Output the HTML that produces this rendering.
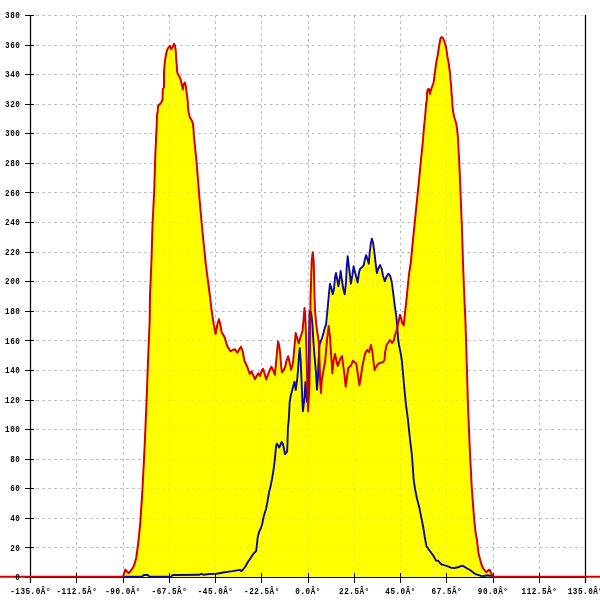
<!DOCTYPE html>
<html><head><meta charset="utf-8"><style>
html,body{margin:0;padding:0;background:#fff;width:600px;height:600px;overflow:hidden}
svg{display:block}
text{font-family:"Liberation Mono",monospace}
</style></head><body>
<svg width="600" height="600" viewBox="0 0 600 600" shape-rendering="auto">
<g stroke="#bdbdbd" stroke-width="1" stroke-dasharray="2.4 3.59"><line x1="36.4" y1="547.5" x2="583" y2="547.5"/><line x1="36.4" y1="518.5" x2="583" y2="518.5"/><line x1="36.4" y1="488.5" x2="583" y2="488.5"/><line x1="36.4" y1="459.5" x2="583" y2="459.5"/><line x1="36.4" y1="429.5" x2="583" y2="429.5"/><line x1="36.4" y1="400.5" x2="583" y2="400.5"/><line x1="36.4" y1="370.5" x2="583" y2="370.5"/><line x1="36.4" y1="340.5" x2="583" y2="340.5"/><line x1="36.4" y1="311.5" x2="583" y2="311.5"/><line x1="36.4" y1="281.5" x2="583" y2="281.5"/><line x1="36.4" y1="252.5" x2="583" y2="252.5"/><line x1="36.4" y1="222.5" x2="583" y2="222.5"/><line x1="36.4" y1="192.5" x2="583" y2="192.5"/><line x1="36.4" y1="163.5" x2="583" y2="163.5"/><line x1="36.4" y1="133.5" x2="583" y2="133.5"/><line x1="36.4" y1="104.5" x2="583" y2="104.5"/><line x1="36.4" y1="74.5" x2="583" y2="74.5"/><line x1="36.4" y1="45.5" x2="583" y2="45.5"/><line x1="36.4" y1="15.5" x2="583" y2="15.5"/><line x1="76.5" y1="15.3" x2="76.5" y2="577"/><line x1="123.5" y1="15.3" x2="123.5" y2="577"/><line x1="169.5" y1="15.3" x2="169.5" y2="577"/><line x1="215.5" y1="15.3" x2="215.5" y2="577"/><line x1="261.5" y1="15.3" x2="261.5" y2="577"/><line x1="308.5" y1="15.3" x2="308.5" y2="577"/><line x1="354.5" y1="15.3" x2="354.5" y2="577"/><line x1="400.5" y1="15.3" x2="400.5" y2="577"/><line x1="446.5" y1="15.3" x2="446.5" y2="577"/><line x1="493.5" y1="15.3" x2="493.5" y2="577"/><line x1="539.5" y1="15.3" x2="539.5" y2="577"/></g>
<polygon fill="#ffff00" points="123.00,577.00 123.00,576.80 125.30,569.60 128.70,573.30 132.90,567.90 134.50,564.00 136.20,558.00 137.30,550.00 138.50,541.00 140.50,520.00 142.60,486.70 144.70,445.00 146.50,403.00 148.00,361.70 149.70,320.00 150.00,295.00 151.50,260.00 152.50,225.00 154.25,190.00 155.30,155.00 156.70,125.00 157.10,114.00 157.70,112.00 158.00,106.00 160.00,104.00 161.50,102.00 162.50,100.00 162.80,89.00 164.00,87.50 164.00,73.00 164.80,62.20 165.80,55.50 166.70,51.30 167.90,48.40 169.20,46.75 170.00,45.90 171.25,49.25 172.90,46.30 174.00,43.80 175.00,45.50 175.70,50.50 176.25,59.70 176.80,65.50 177.10,71.30 177.70,73.80 178.75,75.50 180.50,79.00 181.50,83.00 182.80,89.50 183.50,85.00 184.80,82.50 185.80,86.00 186.50,92.00 187.20,97.00 187.80,102.00 188.00,108.00 188.80,113.00 189.80,117.00 191.50,120.00 192.80,123.00 193.50,129.00 193.80,135.00 196.70,163.30 199.30,196.70 202.30,230.00 205.70,263.30 210.00,296.70 211.30,308.00 212.70,318.00 214.00,326.00 215.60,334.00 217.30,324.70 218.90,319.30 220.40,324.70 221.70,332.70 223.30,334.70 224.90,338.00 226.70,344.70 228.70,348.70 230.70,351.30 232.70,350.00 235.00,349.30 237.30,352.70 239.30,349.30 240.90,346.70 242.70,351.30 244.40,360.70 246.30,364.70 248.00,368.70 249.70,374.00 251.60,371.30 253.30,375.30 254.90,379.30 256.70,376.00 258.30,373.30 260.00,376.00 261.30,372.00 263.00,368.70 264.70,374.00 266.20,379.50 267.90,374.80 269.70,370.20 271.40,366.70 273.20,370.20 274.90,374.80 276.10,362.00 277.30,349.20 278.10,341.60 279.20,345.70 280.20,353.80 281.10,365.50 281.90,372.50 283.70,370.20 285.40,366.00 286.20,361.50 288.20,356.20 289.70,363.00 291.20,369.70 293.00,363.00 294.20,349.50 295.70,333.00 297.20,338.20 298.70,343.50 300.50,337.00 302.50,331.00 303.50,320.00 304.50,308.00 305.20,315.00 305.80,330.00 306.20,345.00 307.20,380.00 308.00,411.30 309.40,387.50 309.90,355.00 310.50,300.00 311.70,261.00 312.70,252.30 313.70,261.00 314.30,289.00 315.00,310.00 316.00,322.00 317.00,330.00 318.00,337.00 319.00,343.00 319.50,360.00 320.20,382.00 321.00,392.90 321.80,380.00 323.50,370.20 325.10,361.50 327.00,340.00 328.70,326.00 330.00,337.30 331.00,353.30 332.00,366.70 332.30,373.30 333.70,360.00 335.00,354.00 336.30,360.00 337.70,366.00 339.00,362.70 340.30,358.70 342.00,356.00 343.00,364.00 344.30,373.30 345.70,386.70 347.00,377.30 348.30,368.00 349.70,366.70 351.00,365.30 353.00,360.70 355.00,362.70 356.30,363.30 357.70,373.30 359.40,385.30 361.00,376.00 362.30,366.70 363.70,360.00 365.00,354.00 367.00,350.00 369.00,352.00 371.00,345.00 372.50,353.00 373.50,362.00 374.50,370.00 376.00,367.00 378.00,364.00 380.00,363.00 383.00,362.00 384.50,360.00 385.00,353.00 386.50,345.00 388.00,343.00 390.00,340.00 392.00,343.00 394.00,340.00 395.00,335.00 396.50,331.00 397.50,326.00 398.50,322.00 400.00,314.70 401.30,318.70 402.00,322.70 403.70,325.30 405.30,310.70 406.70,297.30 408.00,284.00 409.30,272.00 410.70,263.30 413.30,236.70 416.00,210.00 418.70,183.30 421.30,156.70 423.00,140.00 423.50,133.00 424.20,125.00 425.00,118.00 425.50,112.00 426.00,105.00 426.80,100.00 427.00,93.00 427.80,89.50 429.00,89.00 430.00,94.00 430.50,91.50 431.50,88.50 432.30,86.00 433.50,83.00 434.50,76.00 435.50,68.00 436.50,61.00 437.80,55.00 438.80,48.00 439.80,42.00 440.50,38.50 441.50,37.00 443.00,38.00 444.20,41.00 445.50,45.00 446.50,50.00 447.50,57.00 448.50,62.00 449.30,68.00 450.00,73.00 450.50,80.00 451.20,86.00 451.50,93.00 452.00,98.00 452.50,106.00 453.30,113.00 454.50,118.00 455.50,121.00 456.50,125.00 457.20,130.00 457.80,136.00 459.30,163.30 460.70,196.70 462.00,230.00 463.00,263.30 464.30,296.70 465.40,320.00 466.70,361.70 467.90,403.30 469.60,445.00 471.70,486.70 474.20,520.00 475.50,532.00 477.00,540.00 477.70,547.00 478.70,554.00 480.10,559.60 481.50,564.50 483.30,568.70 486.10,572.20 487.80,570.80 489.60,569.70 491.00,572.90 492.40,575.70 493.40,576.80 493.40,577.00"/>
<polygon fill="#ffff00" points="123.00,577.00 123.00,576.80 142.00,576.80 143.50,575.00 148.00,575.00 149.50,576.80 171.00,576.80 172.50,575.00 178.00,575.00 199.00,574.80 201.30,573.80 203.70,574.80 209.50,574.00 216.50,573.70 224.70,572.30 232.80,571.10 239.80,569.90 241.60,571.10 245.10,567.00 248.00,561.75 250.00,559.00 253.20,554.00 256.20,551.00 256.70,546.50 257.70,537.50 259.20,531.50 260.70,528.50 262.20,524.00 263.70,516.50 266.00,509.00 267.50,501.50 269.00,492.50 270.50,486.50 272.00,479.00 273.50,470.00 274.60,461.70 275.40,453.30 276.20,445.70 277.00,443.70 279.20,447.50 281.70,442.00 282.90,444.00 285.00,454.00 287.10,451.70 287.50,443.30 287.90,428.30 288.75,420.00 289.70,402.00 290.70,396.00 293.00,387.00 294.50,381.70 295.70,390.00 297.20,379.50 298.20,367.50 299.00,355.50 299.70,348.00 300.70,360.00 301.80,387.50 302.90,411.30 304.50,398.30 305.40,382.00 306.10,390.75 306.90,401.60 308.30,387.50 309.00,342.00 309.50,312.00 310.50,311.00 311.50,315.00 312.50,325.00 313.00,335.00 314.00,350.00 315.90,371.30 317.00,389.70 318.00,376.70 318.60,360.40 319.50,345.00 320.50,342.00 322.00,338.00 323.50,333.00 325.00,327.00 326.00,325.00 327.30,311.70 328.30,301.00 328.90,294.30 330.00,283.70 331.30,287.70 332.70,294.30 334.00,289.00 334.90,278.30 336.00,273.00 337.00,278.30 338.40,286.30 339.70,278.30 340.70,271.00 342.00,281.00 343.30,289.00 344.70,294.30 346.00,282.30 346.70,267.70 347.70,256.30 348.70,265.00 350.00,275.70 350.90,283.70 352.30,275.70 353.60,266.30 354.90,271.70 356.20,276.70 357.60,282.50 359.10,272.00 360.30,268.50 362.00,267.30 363.75,265.00 364.90,259.20 366.10,255.10 367.25,258.60 368.80,263.80 369.60,253.30 370.75,244.00 371.90,238.75 373.10,242.80 373.90,248.70 374.80,255.70 375.80,265.00 376.90,273.20 378.30,268.50 380.10,265.00 381.60,268.50 383.00,275.50 384.75,281.30 386.50,276.70 388.25,273.75 390.00,275.50 391.40,280.20 392.30,286.00 393.50,295.30 394.90,306.70 396.30,316.00 397.30,326.70 398.00,338.00 399.00,345.00 400.00,350.00 401.00,355.00 402.00,362.00 402.70,370.00 404.20,386.70 405.80,403.30 408.00,420.00 409.70,436.70 411.70,453.30 412.30,460.00 413.00,470.00 413.60,479.20 415.00,488.75 416.90,498.30 419.40,507.90 421.30,517.50 423.20,527.00 424.70,536.70 426.50,546.30 429.90,551.00 433.40,555.80 436.00,560.60 438.30,560.70 440.00,563.00 442.00,564.70 446.00,565.70 451.00,567.70 454.70,568.00 458.70,567.00 462.30,565.70 466.00,567.70 470.00,570.00 474.30,573.30 477.00,574.60 480.50,575.70 484.00,576.00 487.50,575.30 489.60,575.70 491.70,575.70 493.00,576.40 493.00,577.00"/>
<g stroke="#909090" stroke-opacity="0.18" stroke-width="1" stroke-dasharray="2.4 3.59"><line x1="36.4" y1="547.5" x2="583" y2="547.5"/><line x1="36.4" y1="518.5" x2="583" y2="518.5"/><line x1="36.4" y1="488.5" x2="583" y2="488.5"/><line x1="36.4" y1="459.5" x2="583" y2="459.5"/><line x1="36.4" y1="429.5" x2="583" y2="429.5"/><line x1="36.4" y1="400.5" x2="583" y2="400.5"/><line x1="36.4" y1="370.5" x2="583" y2="370.5"/><line x1="36.4" y1="340.5" x2="583" y2="340.5"/><line x1="36.4" y1="311.5" x2="583" y2="311.5"/><line x1="36.4" y1="281.5" x2="583" y2="281.5"/><line x1="36.4" y1="252.5" x2="583" y2="252.5"/><line x1="36.4" y1="222.5" x2="583" y2="222.5"/><line x1="36.4" y1="192.5" x2="583" y2="192.5"/><line x1="36.4" y1="163.5" x2="583" y2="163.5"/><line x1="36.4" y1="133.5" x2="583" y2="133.5"/><line x1="36.4" y1="104.5" x2="583" y2="104.5"/><line x1="36.4" y1="74.5" x2="583" y2="74.5"/><line x1="36.4" y1="45.5" x2="583" y2="45.5"/><line x1="36.4" y1="15.5" x2="583" y2="15.5"/><line x1="76.5" y1="15.3" x2="76.5" y2="577"/><line x1="123.5" y1="15.3" x2="123.5" y2="577"/><line x1="169.5" y1="15.3" x2="169.5" y2="577"/><line x1="215.5" y1="15.3" x2="215.5" y2="577"/><line x1="261.5" y1="15.3" x2="261.5" y2="577"/><line x1="308.5" y1="15.3" x2="308.5" y2="577"/><line x1="354.5" y1="15.3" x2="354.5" y2="577"/><line x1="400.5" y1="15.3" x2="400.5" y2="577"/><line x1="446.5" y1="15.3" x2="446.5" y2="577"/><line x1="493.5" y1="15.3" x2="493.5" y2="577"/><line x1="539.5" y1="15.3" x2="539.5" y2="577"/></g>
<g stroke="#000" stroke-width="1.5"><line x1="30.5" y1="15" x2="30.5" y2="583" stroke-width="1.25"/><line x1="585.5" y1="15" x2="585.5" y2="583" stroke-width="1.25"/><line x1="30" y1="577.5" x2="586" y2="577.5" stroke-width="1"/><line x1="25" y1="577.5" x2="34" y2="577.5" stroke-width="1"/><line x1="25" y1="547.5" x2="34" y2="547.5" stroke-width="1"/><line x1="25" y1="518.5" x2="34" y2="518.5" stroke-width="1"/><line x1="25" y1="488.5" x2="34" y2="488.5" stroke-width="1"/><line x1="25" y1="459.5" x2="34" y2="459.5" stroke-width="1"/><line x1="25" y1="429.5" x2="34" y2="429.5" stroke-width="1"/><line x1="25" y1="400.5" x2="34" y2="400.5" stroke-width="1"/><line x1="25" y1="370.5" x2="34" y2="370.5" stroke-width="1"/><line x1="25" y1="340.5" x2="34" y2="340.5" stroke-width="1"/><line x1="25" y1="311.5" x2="34" y2="311.5" stroke-width="1"/><line x1="25" y1="281.5" x2="34" y2="281.5" stroke-width="1"/><line x1="25" y1="252.5" x2="34" y2="252.5" stroke-width="1"/><line x1="25" y1="222.5" x2="34" y2="222.5" stroke-width="1"/><line x1="25" y1="192.5" x2="34" y2="192.5" stroke-width="1"/><line x1="25" y1="163.5" x2="34" y2="163.5" stroke-width="1"/><line x1="25" y1="133.5" x2="34" y2="133.5" stroke-width="1"/><line x1="25" y1="104.5" x2="34" y2="104.5" stroke-width="1"/><line x1="25" y1="74.5" x2="34" y2="74.5" stroke-width="1"/><line x1="25" y1="45.5" x2="34" y2="45.5" stroke-width="1"/><line x1="25" y1="15.5" x2="34" y2="15.5" stroke-width="1"/><line x1="30.5" y1="573" x2="30.5" y2="583" stroke-width="1"/><line x1="76.5" y1="573" x2="76.5" y2="583" stroke-width="1"/><line x1="123.5" y1="573" x2="123.5" y2="583" stroke-width="1"/><line x1="169.5" y1="573" x2="169.5" y2="583" stroke-width="1"/><line x1="215.5" y1="573" x2="215.5" y2="583" stroke-width="1"/><line x1="261.5" y1="573" x2="261.5" y2="583" stroke-width="1"/><line x1="308.5" y1="573" x2="308.5" y2="583" stroke-width="1"/><line x1="354.5" y1="573" x2="354.5" y2="583" stroke-width="1"/><line x1="400.5" y1="573" x2="400.5" y2="583" stroke-width="1"/><line x1="446.5" y1="573" x2="446.5" y2="583" stroke-width="1"/><line x1="493.5" y1="573" x2="493.5" y2="583" stroke-width="1"/><line x1="539.5" y1="573" x2="539.5" y2="583" stroke-width="1"/><line x1="585.5" y1="573" x2="585.5" y2="583" stroke-width="1"/></g>
<polyline fill="none" stroke="#0a0aa0" stroke-width="1.9" stroke-linejoin="round" points="123.00,576.80 142.00,576.80 143.50,575.00 148.00,575.00 149.50,576.80 171.00,576.80 172.50,575.00 178.00,575.00 199.00,574.80 201.30,573.80 203.70,574.80 209.50,574.00 216.50,573.70 224.70,572.30 232.80,571.10 239.80,569.90 241.60,571.10 245.10,567.00 248.00,561.75 250.00,559.00 253.20,554.00 256.20,551.00 256.70,546.50 257.70,537.50 259.20,531.50 260.70,528.50 262.20,524.00 263.70,516.50 266.00,509.00 267.50,501.50 269.00,492.50 270.50,486.50 272.00,479.00 273.50,470.00 274.60,461.70 275.40,453.30 276.20,445.70 277.00,443.70 279.20,447.50 281.70,442.00 282.90,444.00 285.00,454.00 287.10,451.70 287.50,443.30 287.90,428.30 288.75,420.00 289.70,402.00 290.70,396.00 293.00,387.00 294.50,381.70 295.70,390.00 297.20,379.50 298.20,367.50 299.00,355.50 299.70,348.00 300.70,360.00 301.80,387.50 302.90,411.30 304.50,398.30 305.40,382.00 306.10,390.75 306.90,401.60 308.30,387.50 309.00,342.00 309.50,312.00 310.50,311.00 311.50,315.00 312.50,325.00 313.00,335.00 314.00,350.00 315.90,371.30 317.00,389.70 318.00,376.70 318.60,360.40 319.50,345.00 320.50,342.00 322.00,338.00 323.50,333.00 325.00,327.00 326.00,325.00 327.30,311.70 328.30,301.00 328.90,294.30 330.00,283.70 331.30,287.70 332.70,294.30 334.00,289.00 334.90,278.30 336.00,273.00 337.00,278.30 338.40,286.30 339.70,278.30 340.70,271.00 342.00,281.00 343.30,289.00 344.70,294.30 346.00,282.30 346.70,267.70 347.70,256.30 348.70,265.00 350.00,275.70 350.90,283.70 352.30,275.70 353.60,266.30 354.90,271.70 356.20,276.70 357.60,282.50 359.10,272.00 360.30,268.50 362.00,267.30 363.75,265.00 364.90,259.20 366.10,255.10 367.25,258.60 368.80,263.80 369.60,253.30 370.75,244.00 371.90,238.75 373.10,242.80 373.90,248.70 374.80,255.70 375.80,265.00 376.90,273.20 378.30,268.50 380.10,265.00 381.60,268.50 383.00,275.50 384.75,281.30 386.50,276.70 388.25,273.75 390.00,275.50 391.40,280.20 392.30,286.00 393.50,295.30 394.90,306.70 396.30,316.00 397.30,326.70 398.00,338.00 399.00,345.00 400.00,350.00 401.00,355.00 402.00,362.00 402.70,370.00 404.20,386.70 405.80,403.30 408.00,420.00 409.70,436.70 411.70,453.30 412.30,460.00 413.00,470.00 413.60,479.20 415.00,488.75 416.90,498.30 419.40,507.90 421.30,517.50 423.20,527.00 424.70,536.70 426.50,546.30 429.90,551.00 433.40,555.80 436.00,560.60 438.30,560.70 440.00,563.00 442.00,564.70 446.00,565.70 451.00,567.70 454.70,568.00 458.70,567.00 462.30,565.70 466.00,567.70 470.00,570.00 474.30,573.30 477.00,574.60 480.50,575.70 484.00,576.00 487.50,575.30 489.60,575.70 491.70,575.70 493.00,576.40"/>
<polyline fill="none" stroke="#d20000" stroke-width="2" stroke-linejoin="round" points="0.00,576.80 123.00,576.80 125.30,569.60 128.70,573.30 132.90,567.90 134.50,564.00 136.20,558.00 137.30,550.00 138.50,541.00 140.50,520.00 142.60,486.70 144.70,445.00 146.50,403.00 148.00,361.70 149.70,320.00 150.00,295.00 151.50,260.00 152.50,225.00 154.25,190.00 155.30,155.00 156.70,125.00 157.10,114.00 157.70,112.00 158.00,106.00 160.00,104.00 161.50,102.00 162.50,100.00 162.80,89.00 164.00,87.50 164.00,73.00 164.80,62.20 165.80,55.50 166.70,51.30 167.90,48.40 169.20,46.75 170.00,45.90 171.25,49.25 172.90,46.30 174.00,43.80 175.00,45.50 175.70,50.50 176.25,59.70 176.80,65.50 177.10,71.30 177.70,73.80 178.75,75.50 180.50,79.00 181.50,83.00 182.80,89.50 183.50,85.00 184.80,82.50 185.80,86.00 186.50,92.00 187.20,97.00 187.80,102.00 188.00,108.00 188.80,113.00 189.80,117.00 191.50,120.00 192.80,123.00 193.50,129.00 193.80,135.00 196.70,163.30 199.30,196.70 202.30,230.00 205.70,263.30 210.00,296.70 211.30,308.00 212.70,318.00 214.00,326.00 215.60,334.00 217.30,324.70 218.90,319.30 220.40,324.70 221.70,332.70 223.30,334.70 224.90,338.00 226.70,344.70 228.70,348.70 230.70,351.30 232.70,350.00 235.00,349.30 237.30,352.70 239.30,349.30 240.90,346.70 242.70,351.30 244.40,360.70 246.30,364.70 248.00,368.70 249.70,374.00 251.60,371.30 253.30,375.30 254.90,379.30 256.70,376.00 258.30,373.30 260.00,376.00 261.30,372.00 263.00,368.70 264.70,374.00 266.20,379.50 267.90,374.80 269.70,370.20 271.40,366.70 273.20,370.20 274.90,374.80 276.10,362.00 277.30,349.20 278.10,341.60 279.20,345.70 280.20,353.80 281.10,365.50 281.90,372.50 283.70,370.20 285.40,366.00 286.20,361.50 288.20,356.20 289.70,363.00 291.20,369.70 293.00,363.00 294.20,349.50 295.70,333.00 297.20,338.20 298.70,343.50 300.50,337.00 302.50,331.00 303.50,320.00 304.50,308.00 305.20,315.00 305.80,330.00 306.20,345.00 307.20,380.00 308.00,411.30 309.40,387.50 309.90,355.00 310.50,300.00 311.70,261.00 312.70,252.30 313.70,261.00 314.30,289.00 315.00,310.00 316.00,322.00 317.00,330.00 318.00,337.00 319.00,343.00 319.50,360.00 320.20,382.00 321.00,392.90 321.80,380.00 323.50,370.20 325.10,361.50 327.00,340.00 328.70,326.00 330.00,337.30 331.00,353.30 332.00,366.70 332.30,373.30 333.70,360.00 335.00,354.00 336.30,360.00 337.70,366.00 339.00,362.70 340.30,358.70 342.00,356.00 343.00,364.00 344.30,373.30 345.70,386.70 347.00,377.30 348.30,368.00 349.70,366.70 351.00,365.30 353.00,360.70 355.00,362.70 356.30,363.30 357.70,373.30 359.40,385.30 361.00,376.00 362.30,366.70 363.70,360.00 365.00,354.00 367.00,350.00 369.00,352.00 371.00,345.00 372.50,353.00 373.50,362.00 374.50,370.00 376.00,367.00 378.00,364.00 380.00,363.00 383.00,362.00 384.50,360.00 385.00,353.00 386.50,345.00 388.00,343.00 390.00,340.00 392.00,343.00 394.00,340.00 395.00,335.00 396.50,331.00 397.50,326.00 398.50,322.00 400.00,314.70 401.30,318.70 402.00,322.70 403.70,325.30 405.30,310.70 406.70,297.30 408.00,284.00 409.30,272.00 410.70,263.30 413.30,236.70 416.00,210.00 418.70,183.30 421.30,156.70 423.00,140.00 423.50,133.00 424.20,125.00 425.00,118.00 425.50,112.00 426.00,105.00 426.80,100.00 427.00,93.00 427.80,89.50 429.00,89.00 430.00,94.00 430.50,91.50 431.50,88.50 432.30,86.00 433.50,83.00 434.50,76.00 435.50,68.00 436.50,61.00 437.80,55.00 438.80,48.00 439.80,42.00 440.50,38.50 441.50,37.00 443.00,38.00 444.20,41.00 445.50,45.00 446.50,50.00 447.50,57.00 448.50,62.00 449.30,68.00 450.00,73.00 450.50,80.00 451.20,86.00 451.50,93.00 452.00,98.00 452.50,106.00 453.30,113.00 454.50,118.00 455.50,121.00 456.50,125.00 457.20,130.00 457.80,136.00 459.30,163.30 460.70,196.70 462.00,230.00 463.00,263.30 464.30,296.70 465.40,320.00 466.70,361.70 467.90,403.30 469.60,445.00 471.70,486.70 474.20,520.00 475.50,532.00 477.00,540.00 477.70,547.00 478.70,554.00 480.10,559.60 481.50,564.50 483.30,568.70 486.10,572.20 487.80,570.80 489.60,569.70 491.00,572.90 492.40,575.70 493.40,576.80 600.00,576.80"/>
<g font-family="Liberation Mono" font-weight="bold" font-size="9.0px" letter-spacing="0.6" fill="#000" style="will-change:transform"><text transform="translate(20.4,580.1) scale(0.850,1)" text-anchor="end">0</text><text transform="translate(20.4,550.5) scale(0.850,1)" text-anchor="end">20</text><text transform="translate(20.4,520.9) scale(0.850,1)" text-anchor="end">40</text><text transform="translate(20.4,491.4) scale(0.850,1)" text-anchor="end">60</text><text transform="translate(20.4,461.8) scale(0.850,1)" text-anchor="end">80</text><text transform="translate(20.4,432.2) scale(0.850,1)" text-anchor="end">100</text><text transform="translate(20.4,402.6) scale(0.850,1)" text-anchor="end">120</text><text transform="translate(20.4,373.0) scale(0.850,1)" text-anchor="end">140</text><text transform="translate(20.4,343.5) scale(0.850,1)" text-anchor="end">160</text><text transform="translate(20.4,313.9) scale(0.850,1)" text-anchor="end">180</text><text transform="translate(20.4,284.3) scale(0.850,1)" text-anchor="end">200</text><text transform="translate(20.4,254.7) scale(0.850,1)" text-anchor="end">220</text><text transform="translate(20.4,225.1) scale(0.850,1)" text-anchor="end">240</text><text transform="translate(20.4,195.6) scale(0.850,1)" text-anchor="end">260</text><text transform="translate(20.4,166.0) scale(0.850,1)" text-anchor="end">280</text><text transform="translate(20.4,136.4) scale(0.850,1)" text-anchor="end">300</text><text transform="translate(20.4,106.8) scale(0.850,1)" text-anchor="end">320</text><text transform="translate(20.4,77.2) scale(0.850,1)" text-anchor="end">340</text><text transform="translate(20.4,47.7) scale(0.850,1)" text-anchor="end">360</text><text transform="translate(20.4,18.1) scale(0.850,1)" text-anchor="end">380</text><text transform="translate(30.6,594) scale(0.850,1)" text-anchor="middle">-135.0Â°</text><text transform="translate(76.9,594) scale(0.850,1)" text-anchor="middle">-112.5Â°</text><text transform="translate(123.1,594) scale(0.850,1)" text-anchor="middle">-90.0Â°</text><text transform="translate(169.4,594) scale(0.850,1)" text-anchor="middle">-67.5Â°</text><text transform="translate(215.6,594) scale(0.850,1)" text-anchor="middle">-45.0Â°</text><text transform="translate(261.9,594) scale(0.850,1)" text-anchor="middle">-22.5Â°</text><text transform="translate(308.1,594) scale(0.850,1)" text-anchor="middle">0.0Â°</text><text transform="translate(354.4,594) scale(0.850,1)" text-anchor="middle">22.5Â°</text><text transform="translate(400.6,594) scale(0.850,1)" text-anchor="middle">45.0Â°</text><text transform="translate(446.9,594) scale(0.850,1)" text-anchor="middle">67.5Â°</text><text transform="translate(493.1,594) scale(0.850,1)" text-anchor="middle">90.0Â°</text><text transform="translate(539.4,594) scale(0.850,1)" text-anchor="middle">112.5Â°</text><text transform="translate(585.6,594) scale(0.850,1)" text-anchor="middle">135.0Â°</text></g>
</svg>
</body></html>
